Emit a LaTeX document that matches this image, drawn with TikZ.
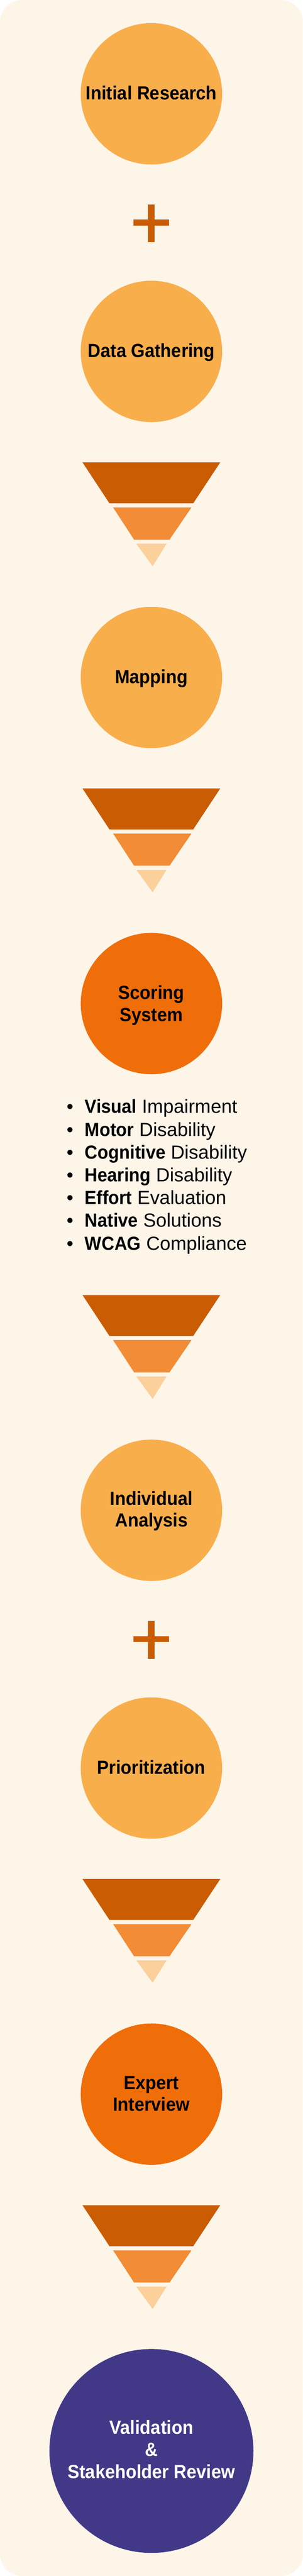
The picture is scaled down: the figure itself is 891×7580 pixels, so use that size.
\documentclass[tikz,border=0pt]{standalone}
\usepackage{fontspec}
\setmainfont{Liberation Sans}[BoldFeatures={FakeStretch=0.93}]
\usetikzlibrary{calc}
\definecolor{bgcream}{HTML}{FEF5E9}
\definecolor{lightorange}{HTML}{F9AE4C}
\definecolor{deeporange}{HTML}{EF6E0A}
\definecolor{funneldark}{HTML}{CA5C04}
\definecolor{funnelmid}{HTML}{F28C36}
\definecolor{funnellight}{HTML}{FBD09B}
\definecolor{plusorange}{HTML}{C95C04}
\definecolor{finalpurple}{HTML}{413887}
\tikzset{
  stage/.style={circle, inner sep=0pt, minimum size=416pt, fill=lightorange},
  stagedeep/.style={stage, fill=deeporange},
  stagefinal/.style={circle, inner sep=0pt, minimum size=600pt, fill=finalpurple},
  stagetext/.style={anchor=base, inner sep=0pt, text=black,
    font=\fontsize{56}{64}\selectfont\bfseries},
  finaltext/.style={stagetext, text=white, font=\fontsize{56}{65}\selectfont\bfseries},
  listtext/.style={anchor=base west, inner sep=0pt, text=black,
    font=\fontsize{56}{67}\selectfont},
  funnel/.pic={
    \fill[funneldark] (242.7,0) -- (648,0) -- (568.5,120.5) -- (322,120.5) -- cycle;
    \fill[funnelmid] (332.6,132.5) -- (563.4,132.5) -- (498.6,227.5) -- (394.5,227.5) -- cycle;
    \fill[funnellight] (401,239.5) -- (490,239.5) -- (449,305.5) -- cycle;
  },
  plussign/.pic={
    \fill[plusorange] (-53.5,370) rectangle (51.5,388);
    \fill[plusorange] (-10,326) rectangle (9.5,437);
  }
}
\begin{document}
\begin{tikzpicture}[x=1pt,y=-1pt]
\fill[white] (0,0) rectangle (891,7580);
\fill[bgcream, rounded corners=65pt] (0,0) rectangle (891,7580);
\useasboundingbox (0,0) rectangle (891,7580);

% 1 Initial Research
\node[stage] (initial) at (445.5,276) {};
\node[stagetext] (initialtxt) at ($(initial.center)+(0,18)$) {Initial Research};
\pic at (initial.center) {plussign};

% 2 Data Gathering
\node[stage] (gathering) at (445.5,1034) {};
\node[stagetext] (gatheringtxt) at ($(gathering.center)+(0,18)$) {Data Gathering};
\pic at (0,1360.5) {funnel};

% 3 Mapping
\node[stage] (mapping) at (445.5,1993.5) {};
\node[stagetext] (mappingtxt) at ($(mapping.center)+(0,18)$) {Mapping};
\pic at (0,2320) {funnel};

% 4 Scoring System
\node[stagedeep] (scoring) at (445.5,2953) {};
\node[stagetext] (scoringtxt) at ($(scoring.center)+(0,-12)$)
  {\begin{tabular}[t]{@{}c@{}}Scoring\\System\end{tabular}};
\node[listtext] (criteria) at (196,3276)
  {\begin{tabular}[t]{@{}l@{\hspace{34pt}}l@{}}
   • & \textbf{Visual} Impairment\\
   • & \textbf{Motor} Disability\\
   • & \textbf{Cognitive} Disability\\
   • & \textbf{Hearing} Disability\\
   • & \textbf{Effort} Evaluation\\
   • & \textbf{Native} Solutions\\
   • & \textbf{WCAG} Compliance
   \end{tabular}};
\pic at (0,3810.7) {funnel};

% 5 Individual Analysis
\node[stage] (individual) at (445.5,4444) {};
\node[stagetext] (individualtxt) at ($(individual.center)+(0,-15)$)
  {\begin{tabular}[t]{@{}c@{}}Individual\\Analysis\end{tabular}};
\pic at (individual.center) {plussign};

% 6 Prioritization
\node[stage] (prioritization) at (445.5,5202.5) {};
\node[stagetext] (prioritizationtxt) at ($(prioritization.center)+(0,18)$) {Prioritization};
\pic at (0,5529) {funnel};

% 7 Expert Interview
\node[stagedeep] (expert) at (445.5,6162) {};
\node[stagetext] (experttxt) at ($(expert.center)+(0,-14)$)
  {\begin{tabular}[t]{@{}c@{}}Expert\\Interview\end{tabular}};
\pic at (0,6489) {funnel};

% 8 Validation
\node[stagefinal] (validation) at (445.5,7212) {};
\node[finaltext] (validationtxt) at ($(validation.center)+(0,-49)$)
  {\begin{tabular}[t]{@{}c@{}}Validation\\\&\\Stakeholder Review\end{tabular}};
\end{tikzpicture}
\end{document}
